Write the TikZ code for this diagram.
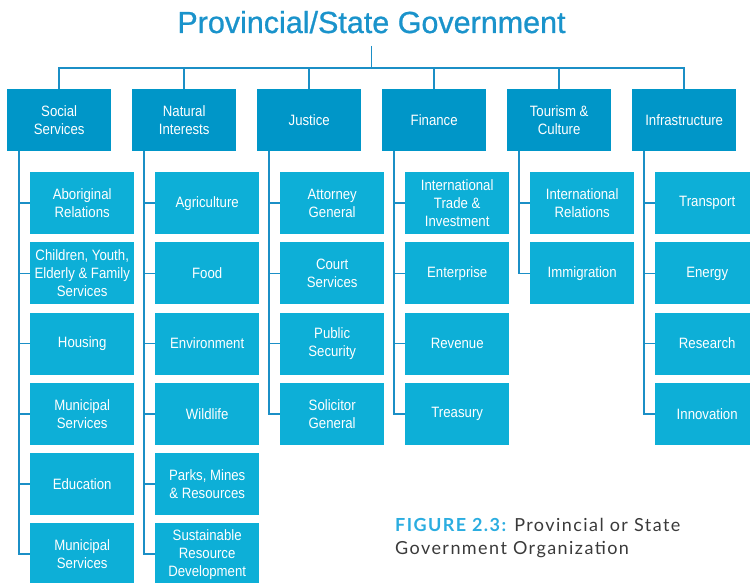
\documentclass[tikz,border=0pt]{standalone}
\usepackage{fontspec}
\setmainfont{Liberation Sans}
\newfontfamily\boxfont[FakeStretch=0.88]{Liberation Sans}
\newfontfamily\titlefont[FakeBold=0.8]{Liberation Sans}
\newfontfamily\capfont[LetterSpace=8]{Lato}
\definecolor{hdr}{HTML}{0096C8}
\definecolor{sub}{HTML}{0DAFD7}
\definecolor{ln}{HTML}{1B8FC6}
\definecolor{ttl}{HTML}{1A93CB}
\definecolor{capblue}{HTML}{2BADE0}
\definecolor{capgray}{HTML}{3A3A3A}
\tikzset{
  base/.style={anchor=north west, minimum width=104pt, minimum height=62pt, inner sep=0pt,
     text=white, align=center, font=\boxfont\fontsize{15}{18}\selectfont},
  hbox/.style={base, fill=hdr},
  cbox/.style={base, fill=sub},
  conn/.style={draw=ln, line width=1.6pt},
}
\begin{document}
\begin{tikzpicture}[x=1pt,y=-1pt]
\useasboundingbox (0,0) rectangle (750,583);
\clip (0,0) rectangle (750,583);
\node[anchor=base, text=ttl, font=\titlefont\fontsize{30.5}{33}\selectfont] (title) at (371.5,33) {Provincial/State Government};
\coordinate (top) at (371.5,46);
\coordinate (bus) at (371.5,68);
% headers
\node[hbox] (h1) at (7,89) {Social\\Services};
\node[hbox] (h2) at (132,89) {Natural\\Interests};
\node[hbox] (h3) at (257,89) {Justice};
\node[hbox] (h4) at (382,89) {Finance};
\node[hbox] (h5) at (507,89) {Tourism \&\\Culture};
\node[hbox] (h6) at (632,89) {Infrastructure};
\draw[conn] (top) -- (bus);
\foreach \h in {h1,h2,h3,h4,h5,h6} {\draw[conn] (bus) -| (\h.north);}
% children
\foreach \x/\h/\list in {
  30/h1/{Aboriginal\\Relations,{Children, Youth,\\Elderly \& Family\\Services},Housing,Municipal\\Services,Education,Municipal\\Services},
  155/h2/{Agriculture,Food,Environment,Wildlife,{Parks, Mines\\\& Resources},Sustainable\\Resource\\Development},
  280/h3/{Attorney\\General,Court\\Services,Public\\Security,Solicitor\\General},
  405/h4/{International\\Trade \&\\Investment,Enterprise,Revenue,Treasury},
  530/h5/{International\\Relations,Immigration},
  655/h6/{Transport,Energy,Research,Innovation}} {
  \foreach \t [count=\i] in \list {
    \node[cbox] (\h c\i) at (\x,{172+70.2*(\i-1)}) {\t};
    \draw[conn] ([xshift=12pt]\h.south west) |- (\h c\i.west);
  }
}
\node[anchor=base west, inner sep=0pt, align=left, font=\capfont\fontsize{18}{23.5}\selectfont, text=capgray] (cap) at (395,554.5)
  {\textcolor{capblue}{\bfseries FIGURE 2.3:} Provincial or State\\Government Organization};
\end{tikzpicture}
\end{document}
